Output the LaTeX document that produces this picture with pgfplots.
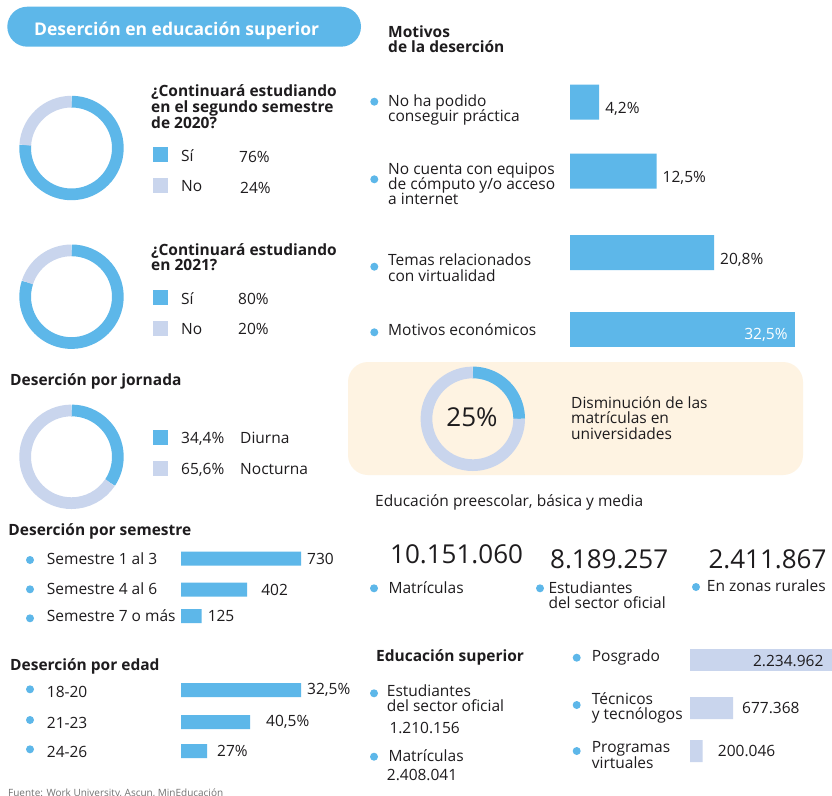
\documentclass[border=0pt]{standalone}
\usepackage{pgfplots}
\pgfplotsset{compat=1.18}
\usepackage{fontspec}
\setmainfont{Open Sans}
\definecolor{myblue}{RGB}{93,183,233}
\definecolor{lav}{RGB}{201,213,237}
\definecolor{beige}{RGB}{254,243,226}
\definecolor{txt}{RGB}{30,28,30}
\newcommand\fs{\fontsize{15.5}{16}\selectfont}
\newcommand\T[3][]{\node[anchor=base west, inner sep=0pt, #1] at (#2) {#3};}
\newcommand\B[1]{\fill[myblue] (#1) circle (4pt);}
% donut values (percent of the blue part)
\def\dA{76}\def\dB{80}\def\dC{34.4}\def\dD{25}
\pgfplotsset{
  donut/.style={scale only axis, hide axis, width=110pt, height=110pt,
    xmin=-55, xmax=55, ymin=-55, ymax=55, anchor=center, clip=false},
  barax/.style={scale only axis, hide axis, xbar, bar shift=0pt, y dir=reverse,
    clip=false, xmin=0, enlargelimits=false, anchor=north west,
    point meta=explicit symbolic},
  lab/.style={nodes near coords={\pgfplotspointmeta},
    nodes near coords style={anchor=west, inner sep=0pt, xshift=6pt, text=txt, font=\fs}},
}
\newcommand\Donut[1]{%
  \draw[line width=11.7pt, myblue] ([shift={(90:46.35pt)}]axis cs:0,0)
     arc[start angle=90, end angle={90-3.6*#1}, radius=46.35pt];
  \draw[line width=11.7pt, lav] ([shift={(90:46.35pt)}]axis cs:0,0)
     arc[start angle=90, end angle={90+3.6*(100-#1)}, radius=46.35pt];}
\begin{document}
\begin{tikzpicture}[x=1pt, y=1pt, font=\fs, text=txt]
\useasboundingbox (0,0) rectangle (832,-795);
\fill[white] (0,0) rectangle (832,-795);

% header
\fill[myblue, rounded corners=20pt] (7.3,-6.7) rectangle (361,-46.7);
\T[text=white, font=\fontsize{17.5}{18}\selectfont\bfseries]{34,-35}{Deserción en educación superior}

% ---------------- donut 1
\begin{axis}[donut, at={(71.5pt,-148pt)}]
\Donut{\dA}
\end{axis}
\begin{scope}[font=\fs\bfseries]
\T{151,-96.7}{¿Continuará estudiando}
\T{151,-112.3}{en el segundo semestre}
\T{151,-128}{de 2020?}
\end{scope}
\fill[myblue] (153,-147.3) rectangle (168,-162.3);
\fill[lav] (153,-177.7) rectangle (168,-193.3);
\T{181,-161.7}{Sí}\T{239,-162}{76\%}
\T{181,-191}{No}\T{240,-193}{24\%}

% ---------------- donut 2
\begin{axis}[donut, at={(71.5pt,-296.7pt)}]
\Donut{\dB}
\end{axis}
\begin{scope}[font=\fs\bfseries]
\T{151,-255}{¿Continuará estudiando}
\T{151,-270}{en 2021?}
\end{scope}
\fill[myblue] (153,-290) rectangle (168,-305);
\fill[lav] (153,-320.5) rectangle (168,-335.5);
\T{181,-304.3}{Sí}\T{238,-304.3}{80\%}
\T{181,-334.3}{No}\T{238,-334.3}{20\%}

% ---------------- donut 3
\T[font=\fs\bfseries]{10,-385.7}{Deserción por jornada}
\begin{axis}[donut, at={(71.5pt,-456.8pt)}]
\Donut{\dC}
\end{axis}
\fill[myblue] (153,-429.5) rectangle (168,-444.5);
\fill[lav] (153,-461) rectangle (168,-476);
\T{181,-443}{34,4\%}\T{240,-443}{Diurna}
\T{181,-474}{65,6\%}\T{240,-474}{Nocturna}

% ---------------- Motivos
\begin{scope}[font=\fs\bfseries]
\T{388,-37}{Motivos}
\T{388,-52.7}{de la deserción}
\end{scope}
\B{374.3,-101.7}\T{388,-106.7}{No ha podido}\T{388,-121.7}{conseguir práctica}
\B{374.3,-179.3}\T{388,-174}{No cuenta con equipos}\T{388,-189}{de cómputo y/o acceso}\T{388,-204.3}{a internet}
\B{374.3,-266.7}\T{388,-265.7}{Temas relacionados}\T{388,-281}{con virtualidad}
\B{374.3,-332.3}\T{388,-335.7}{Motivos económicos}
\begin{axis}[barax, at={(570pt,-70pt)}, width=225pt, height=290pt, xmax=32.5,
  ymin=70, ymax=360, bar width=35pt]
\addplot[fill=myblue, draw=none, lab, nodes near coords style={yshift=-7pt}]
  coordinates {(4.2,102) [4,2\%] (12.5,171) [12,5\%] (20.8,252.5) [20,8\%]};
\addplot[fill=myblue, draw=none] coordinates {(32.5,329) [32,5\%]};
\node[anchor=base east, inner sep=0pt, text=white, font=\fs, xshift=-7.3pt]
  at (axis cs:32.5,339) {32,5\%};
\end{axis}

% ---------------- 25% box
\fill[beige, rounded corners=20pt] (348,-362) rectangle (803,-475);
\begin{axis}[donut, at={(472.8pt,-418.8pt)}]
\Donut{\dD}
\end{axis}
\node[anchor=base, inner sep=0pt, font=\fontsize{26}{26}\selectfont] at (472,-426.7) {25\%};
\T{571,-408.3}{Disminución de las}
\T{571,-423.3}{matrículas en}
\T{571,-439}{universidades}

% ---------------- preescolar
\T{375,-506.7}{Educación preescolar, básica y media}
\begin{scope}[font=\fontsize{26}{26}\selectfont]
\T{390,-563.3}{10.151.060}
\T{550,-568.3}{8.189.257}
\T{708.3,-568.3}{2.411.867}
\end{scope}
\B{374,-588.3}\T{388.3,-593.3}{Matrículas}
\B{540,-588.3}\T{548.3,-593.3}{Estudiantes}\T{548.3,-608.3}{del sector oficial}
\B{696,-587}\T{706.7,-591.7}{En zonas rurales}

% ---------------- semestre
\T[font=\fs\bfseries]{8.3,-535}{Deserción por semestre}
\B{30,-560}\T{46.7,-564}{Semestre 1 al 3}
\B{30,-589.3}\T{46.7,-594}{Semestre 4 al 6}
\B{30,-618.3}\T{46.7,-621.7}{Semestre 7 o más}
\begin{axis}[barax, at={(181pt,-540pt)}, width=120pt, height=90pt, xmax=730,
  ymin=540, ymax=630, bar width=14pt]
\addplot[fill=myblue, draw=none, lab]
  coordinates {(730,558.7) [730] (402,589.7) [\hspace{8pt}402] (125,616) [125]};
\end{axis}

% ---------------- edad
\T[font=\fs\bfseries]{10,-670}{Deserción por edad}
\B{30,-689.3}\T{46.7,-697.3}{18-20}
\B{30,-720}\T{46.7,-728.3}{21-23}
\B{30,-749.3}\T{46.7,-757.3}{24-26}
\begin{axis}[barax, at={(181pt,-675pt)}, width=120pt, height=90pt, xmax=120,
  ymin=675, ymax=765, bar width=14pt]
\addplot[fill=myblue, draw=none, lab]
  coordinates {(120,690) [32,5\%] (69,722) [\hspace{10pt}40,5\%] (26,751) [\hspace{4pt}27\%]};
\end{axis}

% ---------------- educación superior
\T[font=\fs\bfseries]{376,-661.7}{Educación superior}
\B{374,-693.3}\T{386.7,-696}{Estudiantes}\T{386.7,-711.7}{del sector oficial}
\T{389.3,-733.3}{1.210.156}
\B{374,-756.7}\T{388.3,-761.7}{Matrículas}
\T{386.7,-780}{2.408.041}
\B{576.7,-657.7}\T{591.7,-661.7}{Posgrado}
\B{576.7,-705}\T{591.7,-704.3}{Técnicos}\T{591.7,-719.3}{y tecnólogos}
\B{576.7,-751}\T{591.7,-752.7}{Programas}\T{591.7,-768.3}{virtuales}
\begin{axis}[barax, at={(690pt,-640pt)}, width=142pt, height=130pt, xmax=2234962,
  ymin=640, ymax=770, bar width=22pt]
\addplot[fill=lav, draw=none] coordinates {(2234962,659.5) [2.234.962]};
\addplot[fill=lav, draw=none, lab]
  coordinates {(677368,708) [\hspace{3pt}677.368] (200046,751) [\hspace{9pt}200.046]};
\node[anchor=base east, inner sep=0pt, font=\fs, xshift=-8.4pt]
  at (axis cs:2234962,666.7) {2.234.962};
\end{axis}

% footer
\T[font=\fontsize{10}{11}\selectfont, text=black!55]{8,-796}{Fuente: Work University, Ascun, MinEducación}
\end{tikzpicture}
\end{document}
